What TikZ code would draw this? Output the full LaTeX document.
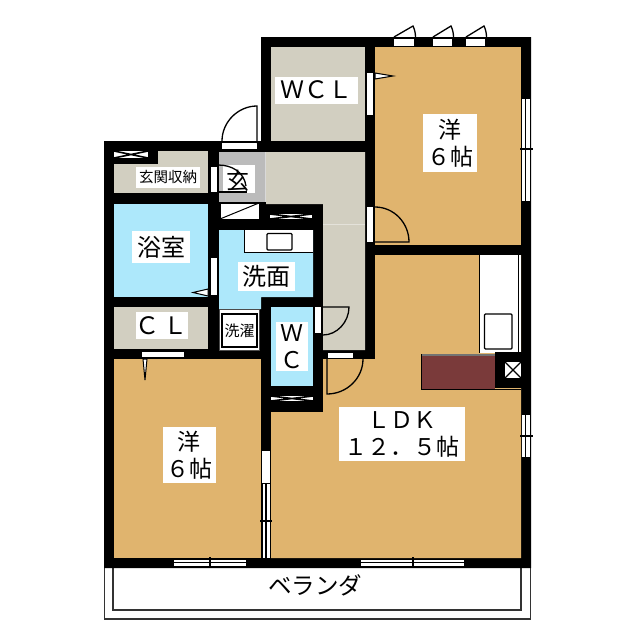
\documentclass[tikz,border=0pt]{standalone}
\usepackage{fontspec}
\newfontfamily\cjk{Noto Sans CJK JP}
\definecolor{tan}{HTML}{E0B46E}
\definecolor{beige}{HTML}{D2CFC1}
\definecolor{aqua}{HTML}{ADE8FB}
\definecolor{entry}{HTML}{BBBBBB}
\definecolor{brownc}{HTML}{7A3A3A}
\tikzset{
  door/.style={fill=white,draw=none},
  swing/.style={draw=black,line width=1.3pt},
  glass/.style={fill=white,draw=none},
  glassline/.style={draw=black,line width=1.1pt},
  tick/.style={draw=black,line width=1.1pt},
  label/.style={fill=white,inner sep=0pt,align=center,font=\cjk},
  fine/.style={draw=black,line width=1pt},
  box/.style={draw=black,line width=1.3pt},
}
\newcommand{\lbl}[2]{\fontsize{#1}{#2}\selectfont}
\begin{document}
\begin{tikzpicture}[x=1pt,y=-1pt]
\useasboundingbox (0,0) rectangle (640,640);
\fill[white] (0,0) rectangle (640,640);
% balcony
\draw[draw=black!80,line width=1.1pt] (104.5,568) -- (104.5,619) -- (530.5,619) -- (530.5,568);
\draw[draw=black!80,line width=1.1pt] (113,568) -- (113,610) -- (521,610) -- (521,568);
% silhouette
\fill[black] (261,37) -- (531,37) -- (531,568) -- (104,568) -- (104,141) -- (261,141) -- cycle;
% rooms
\fill[beige] (271,47) rectangle (365,141);
\fill[tan] (375,47) rectangle (521,245);
\fill[tan] (375,255) -- (521,255) -- (521,558) -- (271,558) -- (271,412) -- (323,412) -- (323,359) -- (375,359) -- cycle;
\fill[beige] (266,152) -- (365,152) -- (365,350) -- (323,350) -- (323,204) -- (266,204) -- cycle;
\draw[draw=beige!60!white,line width=0.5pt] (323,224) -- (365,224);
\fill[white!85!black] (265,152) rectangle (266,202);
\fill[entry] (219,152) rectangle (265,202);
\fill[beige] (114,151) rectangle (208,193);
\fill[black] (104,141) rectangle (158,164);
\fill[aqua] (114,204) rectangle (208,297);
\fill[beige] (114,307) rectangle (208,349);
\fill[tan] (114,359) rectangle (261,558);
\fill[aqua] (219,230) -- (313,230) -- (313,297) -- (261,297) -- (261,309) -- (219,309) -- cycle;
\fill[aqua] (271,307) rectangle (313,386);
% shoe box
\fill[white] (220,203) rectangle (259,219);
\draw[fine] (220,203) rectangle (259,219);
\draw[fine] (220,219) -- (259,203);
% entry label panel and door
\fill[white] (223,165) rectangle (255,193);
\node[label,fill=none,font=\cjk\lbl{23}{23}] (gen) at (238,181) {玄};
\draw[swing] (218,165) .. controls (232,165) and (244,172) .. (246,186);
\draw[swing] (218,192) -- (247,192);
% ventilation
\foreach \a/\b/\c/\d in {114/151/148/158, 270/214/312/219, 271/396/313/401}{
  \fill[white] (\a,\b) rectangle (\c,\d);
  \draw[draw=black,line width=1.6pt] (\a,\b) -- (\c,\d) (\a,\d) -- (\c,\b);
}
% counter in washroom
\fill[white] (244,230) rectangle (313,252);
\draw[fine] (244,230) -- (244,252.5) -- (313,252.5);
\draw[box,rounded corners=1pt] (267,233.5) rectangle (292,250);
% laundry
\fill[white] (219.5,309.5) rectangle (259,350);
\draw[draw=black!70,line width=0.7pt] (219.5,309.5) rectangle (259,350);
\draw[box] (222,314) rectangle (257,347);
% kitchen
\fill[white] (479,255) rectangle (521,353);
\draw[fine] (479.3,255) -- (479.3,353);
\draw[fine] (518.5,255) -- (518.5,353);
\draw[box,rounded corners=1pt] (484.5,314) rectangle (512,349);
\fill[black!55] (421,354) rectangle (495,356);
\fill[brownc] (421,356) rectangle (495,390);
\draw[fine] (421.4,354) -- (421.4,389.6) -- (521,389.6);
\fill[black] (495,352) rectangle (531,388);
\fill[white] (505,362) rectangle (521,378);
\draw[draw=black,line width=1.2pt] (505,362) -- (521,378) (505,378) -- (521,362);
% doors
\fill[door] (222,143) rectangle (257,149);
\draw[swing] (222,141) .. controls (222,122) and (238,106) .. (257,106) -- (257,143);
\fill[door] (210.5,167) rectangle (216.5,192);
\fill[door] (367,207) rectangle (373,242);
\draw[swing] (375,207) .. controls (394,207) and (409,223) .. (409,242) -- (375,242);
\fill[door] (367,73) rectangle (373,115);
\draw[fill=white,draw=black,line width=1pt] (375,73) -- (393,76) -- (375,79) -- cycle;
\fill[door] (211,258) rectangle (217,295);
\draw[fill=white,draw=black,line width=1pt] (208,289) -- (193,292.5) -- (208,296) -- cycle;
\fill[door] (315,307) rectangle (321,333);
\draw[swing] (323,307) -- (349,307) .. controls (349,322) and (337,335) .. (323,335);
\fill[door] (142,352) rectangle (184,357);
\draw[fill=white,draw=black,line width=1pt] (143,359) -- (145,380) -- (147,359) -- cycle;
\fill[door] (328,353) rectangle (353,358);
\draw[swing] (327,359) -- (327,394) .. controls (347,394) and (363,378) .. (363,359);
\fill[door] (262,451) rectangle (270,483);
% top windows
\foreach \a/\b in {394/414, 433/452, 466/485}{
  \fill[glass] (\a,39) rectangle (\b,45.5);
  \draw[swing] (\a,37) -- (\b-1,26) .. controls (\b+0.5,29) and (\b+1.5,33) .. (\b+1.5,37);
}
% windows (double glass with a central tick)
\foreach \t/\b/\m in {99/201/149, 415/457/436}{
  \fill[glass] (522,\t) rectangle (529.5,\b);
  \draw[glassline] (525.7,\t) -- (525.7,\b);
  \draw[tick] (520,\m) -- (533,\m);
}
\fill[glass] (262.5,484) rectangle (269.5,558);
\draw[glassline] (266,484) -- (266,558);
\draw[tick] (260,521) -- (272,521);
\foreach \l/\r/\m in {174/246/210, 361/464/413}{
  \fill[glass] (\l,559.5) rectangle (\r,566);
  \draw[glassline] (\l,562.8) -- (\r,562.8);
  \draw[tick] (\m,557) -- (\m,568);
}
% labels
\node[label,minimum width=83pt,minimum height=27pt,font=\cjk\lbl{24}{24}] (wcl) at (316,90) {ＷＣＬ};
\node[label,minimum width=54pt,minimum height=58pt,font=\cjk\lbl{23}{27}] (yo1) at (450,143) {洋\\６帖};
\node[label,minimum width=53pt,minimum height=56pt,font=\cjk\lbl{23}{27}] (yo2) at (189,455) {洋\\６帖};
\node[label,minimum width=126pt,minimum height=54pt,font=\cjk\lbl{23}{27}] (ldk) at (402,434) {ＬＤＫ\\１２．５帖};
\node[label,minimum width=64pt,minimum height=21pt,font=\cjk\lbl{14.5}{15}] (gs) at (168,177.5) {玄関収納};
\node[label,minimum width=58pt,minimum height=32pt,font=\cjk\lbl{24}{24}] (bath) at (161,247) {浴室};
\node[label,minimum width=57pt,minimum height=29pt,font=\cjk\lbl{24}{24}] (wash) at (266.5,276.5) {洗面};
\node[label,minimum width=51pt,minimum height=27pt,font=\cjk\lbl{24}{24}] (cl) at (161.5,325.5) {Ｃ\,Ｌ};
\node[label,minimum width=32pt,minimum height=49pt,font=\cjk\lbl{23}{27}] (wc) at (292,346.5) {Ｗ\\Ｃ};
\node[label,inner sep=0pt,font=\cjk\lbl{15}{15}] (sen) at (239.5,331) {洗濯};
\node[font=\cjk\lbl{23.5}{23.5},inner sep=0pt] (ver) at (315,585) {ベランダ};
\end{tikzpicture}
\end{document}
